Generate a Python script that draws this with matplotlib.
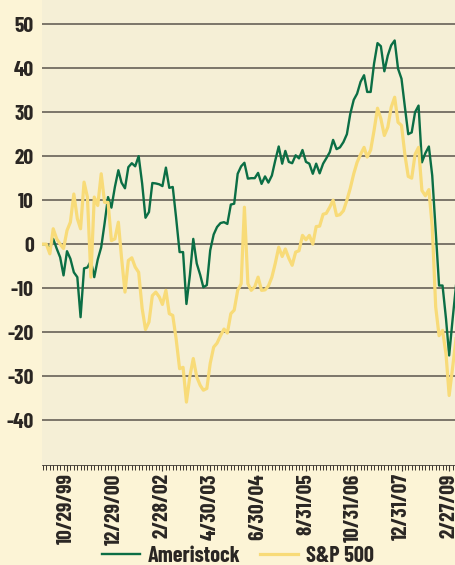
import matplotlib
matplotlib.use("Agg")
import matplotlib.pyplot as plt
import pandas as pd

# month-end returns (%), starting March 1999
ameristock = [0, 0, -1, 1.2, -1, -3, -7.1, -1.6, -3.3, -6.4,
              -7.5, -16.6, -5.5, -5.3, -3.8, -7.5, -3.5, -0.7, 4.7, 10.7,
              8.3, 13, 16.8, 14, 12.7, 17.5, 18.4, 17.7, 20, 13.8,
              6, 7.3, 13.9, 13.8, 13.6, 13.2, 17.4, 12.8, 13, 6,
              -1.8, -1.8, -13.6, -7, 1.2, -4.4, -7, -9.8, -9.3, -1.4,
              2.2, 3.9, 4.8, 5, 4.6, 9, 9.2, 16, 17.7, 18.5,
              14.9, 15, 15, 16.2, 13.7, 15.4, 14, 15.6, 19, 22.2,
              18.3, 21.2, 18.7, 18.4, 20.2, 19.5, 21.4, 18.7, 18.3, 16,
              18.3, 16.1, 18.3, 19.5, 20.9, 23.7, 21.6, 22, 23.2, 25,
              29.6, 32.8, 34.2, 36.9, 38.4, 34.6, 34.6, 41, 45.7, 45,
              39.3, 42.9, 45.2, 46.3, 39.9, 37.6, 31, 25, 25.4, 30,
              31.5, 18.6, 20.7, 22.2, 15.6, 3, -9.4, -9.4, -17, -25.3,
              -17, -9.4]
sp500 = [0, 0, -2.2, 3.5, 1.2, 0, -1, 3.1, 5, 11.4,
         5.8, 3.5, 14.1, 10.7, -7.5, 10.7, 8.8, 16, 9.5, 9.5,
         0.8, 1.2, 5, -3, -10.9, -3.7, -3.1, -5.2, -6.4, -14.6,
         -19.4, -17.7, -11.7, -10.9, -12, -13.7, -10.5, -15.8, -16.2, -21.5,
         -28.3, -28, -35.9, -30, -26, -30.2, -32.1, -33.2, -32.8, -27.1,
         -23.4, -22.5, -20.8, -19.3, -20.2, -15.8, -15, -10.5, -9, 8.4,
         -9, -10.5, -9.7, -7.5, -10.5, -10.4, -9.5, -7.5, -4.4, -0.7,
         -2.8, -1.1, -3.2, -4.8, -1.8, -1.5, 2, 1, 2, 0,
         4, 4.1, 6.8, 7, 8.4, 10, 6.5, 6.7, 7.6, 10,
         12.7, 16, 18.6, 20.4, 22, 19.8, 21.4, 25.8, 30.9, 28.5,
         24.7, 26.6, 31.1, 33.4, 27.7, 27, 20.2, 15.4, 15, 20.4,
         22, 12.2, 11, 12.4, 4, -14.3, -20.8, -19.6, -25, -34.4,
         -28, -21.5]
date_labels = ["10/29/99", "12/29/00", "2/28/02", "4/30/03", "6/30/04",
               "8/31/05", "10/31/06", "12/31/07", "2/27/09"]
y_ticks = [-40, -30, -20, -10, 0, 10, 20, 30, 40, 50]

dates = pd.date_range("1999-03-31", periods=len(ameristock), freq="ME")
label_dates = pd.to_datetime(date_labels, format="%m/%d/%y")

plt.rcParams["font.family"] = ["Barlow Condensed", "DejaVu Sans"]
plt.rcParams["font.weight"] = "bold"
plt.rcParams["axes.unicode_minus"] = False

fig = plt.figure(figsize=(4.56, 5.65), dpi=100, facecolor="#FCF4D6")
ax = fig.add_axes([42 / 456, 100 / 565, 414 / 456, 465 / 565])
ax.set_facecolor("#F5EFD6")

for y in y_ticks:
    ax.axhline(y, color="#5B554C", lw=1.1, zorder=1)

ax.plot(dates, ameristock, color="#0B6E45", lw=1.7, label="Ameristock", zorder=3)
ax.plot(dates, sp500, color="#F8DB78", lw=2.3, label="S&P 500", zorder=4)

ax.set_ylim(-50.2, 55.5)
ax.set_xlim(dates[0] - pd.Timedelta(days=9), dates[-1])

ax.set_yticks(y_ticks)
ax.set_yticklabels([str(v) for v in y_ticks])
ax.tick_params(axis="y", length=0, pad=6, labelsize=15.5, labelcolor="#2A2623")

ax.set_xticks(label_dates)
ax.set_xticklabels(date_labels, rotation=90)
ax.set_xticks(dates, minor=True)
ax.tick_params(axis="x", which="major", length=4, width=0.8, color="#3A3530",
               labelsize=15.5, labelcolor="#2A2623", pad=2)
ax.tick_params(axis="x", which="minor", length=3.5, width=0.7, color="#3A3530")

for s in ["top", "right", "left"]:
    ax.spines[s].set_visible(False)
ax.spines["bottom"].set_color("#3A3530")
ax.spines["bottom"].set_linewidth(0.6)

fig.legend(loc="center", bbox_to_anchor=(238 / 456, 1 - 556 / 565), ncol=2,
           frameon=False, fontsize=16, handlelength=1.7, handletextpad=0.35,
           columnspacing=0.9, borderpad=0, labelcolor="#2A2623")

fig.savefig("out.png", dpi=100, facecolor=fig.get_facecolor())
